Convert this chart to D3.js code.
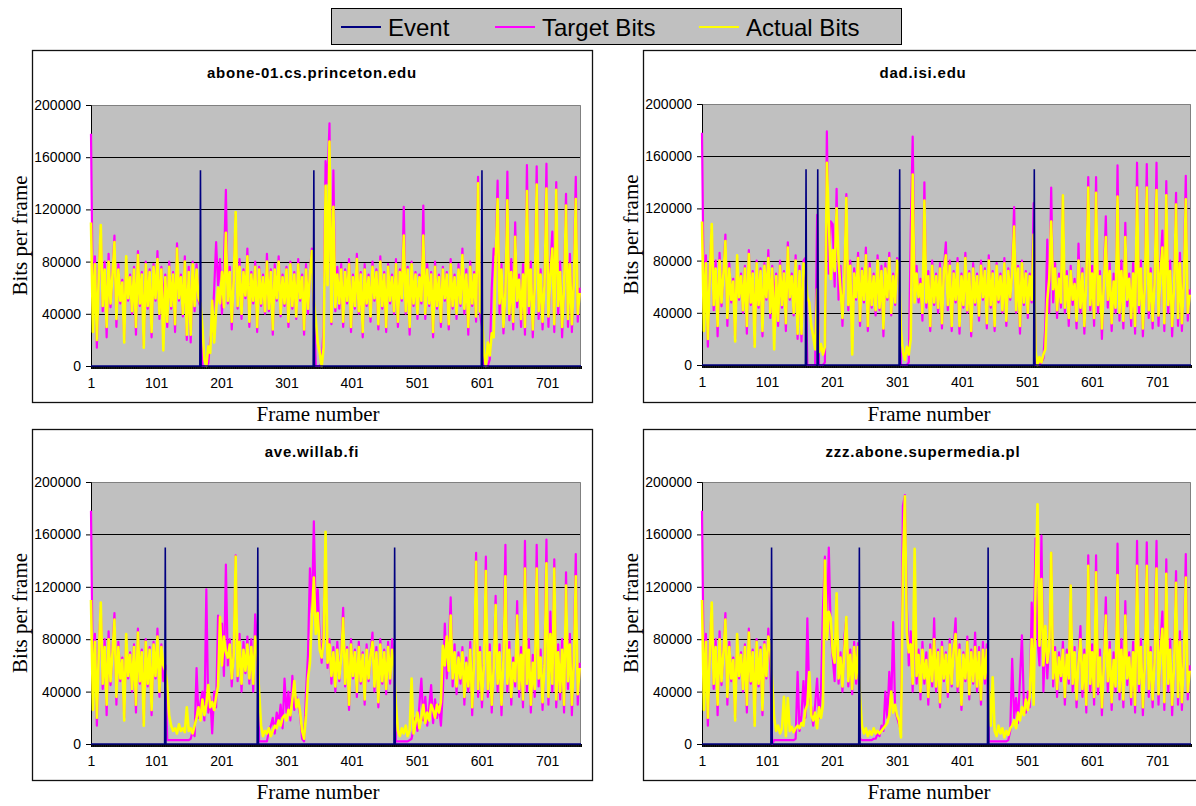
<!DOCTYPE html>
<html>
<head>
<meta charset="utf-8">
<script src="https://cdn.jsdelivr.net/npm/d3@7"></script>
<style>
  body { margin: 0; background: #fff; }
  svg { display: block; font-family: Arial, "Liberation Sans", sans-serif; }
</style>
</head>
<body>
<svg id="chart" width="1196" height="806"></svg>
<script>
// Bits per frame, sampled every 3rd frame (frame 1, 4, 7, ... 751), values in kbit
var frameStep = 3;
var nFrames = 753;
var yTicks = [0, 40000, 80000, 120000, 160000, 200000];
var gridValues = [40000, 80000, 120000, 160000];
var xTickLabels = [1, 101, 201, 301, 401, 501, 601, 701];
var seriesNames = ["Event", "Target Bits", "Actual Bits"];
var seriesColors = ["#000080", "#ff00ff", "#ffff00"];
var eventHeight = 150000;

var princetonEvents = [169, 343, 601];
var princetonTarget = [
  178, 38, 84, 14, 76, 104, 42, 80, 22, 86,
  45, 72, 100, 30, 78, 48, 66, 20, 82, 50,
  70, 40, 76, 24, 88, 46, 72, 16, 80, 44,
  74, 22, 78, 50, 88, 36, 76, 48, 70, 30,
  80, 44, 72, 26, 94, 50, 70, 38, 84, 20,
  76, 18, 80, 42, 78, 50, 45, 0, 0, 0,
  2, 20, 28, 58, 95, 62, 82, 40, 75, 135,
  48, 76, 28, 70, 116, 44, 82, 36, 74, 52,
  90, 30, 72, 48, 80, 26, 76, 46, 70, 40,
  86, 42, 74, 24, 78, 50, 84, 38, 70, 46,
  76, 30, 80, 44, 72, 36, 82, 50, 70, 24,
  78, 40, 72, 90, 50, 0, 0, 0, 2, 30,
  157, 140, 186, 32, 150, 42, 76, 44, 78, 30,
  74, 48, 82, 26, 70, 44, 86, 40, 72, 22,
  78, 46, 70, 34, 80, 50, 74, 28, 84, 44,
  72, 26, 78, 48, 70, 40, 82, 30, 74, 50,
  122, 40, 76, 24, 80, 46, 72, 36, 70, 48,
  123, 36, 78, 46, 72, 22, 80, 44, 70, 30,
  76, 50, 72, 28, 82, 44, 70, 36, 78, 46,
  90, 40, 74, 24, 80, 46, 72, 34, 145, 40,
  30, 0, 0, 0, 5, 60, 90, 85, 142, 40,
  78, 25, 60, 149, 35, 82, 28, 110, 45, 70,
  30, 78, 24, 154, 40, 80, 22, 62, 153, 36,
  74, 28, 66, 155, 30, 76, 103, 26, 141, 40,
  80, 22, 64, 132, 30, 86, 26, 70, 145, 34,
  60
];
var princetonActual = [
  110, 26, 78, 20, 70, 108, 46, 74, 30, 80,
  48, 70, 95, 36, 74, 50, 64, 18, 84, 52,
  68, 42, 74, 30, 85, 48, 70, 14, 78, 46,
  72, 26, 76, 52, 82, 40, 74, 12, 68, 34,
  76, 46, 70, 32, 90, 52, 68, 40, 80, 24,
  72, 24, 78, 46, 74, 52, 48, 30, 5, 0,
  15, 10, 50, 18, 42, 60, 48, 72, 45, 102,
  50, 72, 34, 66, 118, 46, 76, 40, 72, 54,
  84, 34, 70, 50, 76, 30, 74, 48, 68, 42,
  80, 44, 72, 28, 74, 52, 80, 40, 68, 48,
  74, 34, 78, 46, 70, 38, 78, 52, 68, 28,
  74, 44, 70, 88, 50, 35, 18, 10, 0, 14,
  138, 62, 172, 34, 122, 45, 70, 48, 74, 34,
  72, 50, 78, 30, 68, 46, 82, 42, 70, 26,
  74, 48, 68, 38, 76, 52, 72, 32, 80, 46,
  70, 30, 76, 50, 68, 42, 78, 34, 72, 52,
  100, 42, 74, 30, 78, 48, 70, 40, 68, 50,
  100, 40, 74, 48, 70, 26, 76, 46, 68, 34,
  74, 52, 70, 32, 78, 46, 68, 40, 74, 48,
  85, 44, 70, 30, 76, 48, 70, 38, 140, 42,
  40, 10, 0, 18, 8, 25, 22, 80, 128, 48,
  74, 30, 56, 127, 40, 72, 34, 99, 50, 66,
  36, 70, 30, 134, 46, 74, 28, 60, 139, 42,
  70, 34, 62, 136, 38, 70, 90, 32, 135, 46,
  72, 30, 60, 123, 36, 78, 32, 64, 128, 40,
  56
];

var dadEvents = [161, 179, 305, 512];
var dadTarget = [
  178, 38, 84, 14, 76, 104, 42, 80, 22, 86,
  45, 72, 100, 30, 78, 48, 66, 20, 82, 50,
  70, 40, 76, 24, 88, 46, 72, 16, 80, 44,
  74, 22, 78, 50, 88, 36, 76, 48, 70, 30,
  80, 44, 72, 26, 94, 50, 70, 38, 84, 20,
  76, 18, 80, 82, 0, 0, 0, 0, 0, 115,
  0, 0, 0, 2, 179, 70, 110, 108, 60, 135,
  50, 76, 30, 72, 131, 42, 80, 20, 74, 50,
  86, 30, 74, 48, 90, 26, 78, 44, 70, 38,
  84, 42, 76, 22, 78, 50, 86, 38, 70, 46,
  82, 78, 0, 0, 0, 0, 2, 103, 175, 60,
  76, 48, 66, 34, 140, 44, 72, 26, 80, 46,
  70, 40, 78, 28, 74, 94, 42, 80, 26, 72,
  48, 82, 24, 70, 44, 86, 40, 72, 22, 78,
  46, 70, 34, 80, 50, 74, 28, 84, 44, 72,
  26, 78, 48, 70, 40, 82, 30, 74, 50, 76,
  121, 40, 76, 24, 80, 46, 72, 36, 70, 48,
  124, 0, 0, 0, 2, 5, 30, 96, 40, 136,
  48, 78, 36, 70, 44, 130, 40, 72, 30, 76,
  46, 66, 28, 93, 40, 74, 24, 68, 144, 42,
  76, 30, 144, 40, 72, 20, 66, 114, 44, 78,
  26, 70, 40, 153, 34, 80, 28, 109, 45, 70,
  30, 78, 24, 155, 40, 80, 22, 62, 154, 36,
  74, 28, 66, 155, 30, 76, 103, 26, 141, 40,
  80, 22, 64, 132, 30, 86, 26, 70, 145, 34,
  58
];
var dadActual = [
  110, 26, 78, 20, 70, 108, 46, 74, 30, 80,
  48, 70, 95, 36, 74, 50, 64, 18, 84, 52,
  68, 42, 74, 30, 85, 48, 70, 14, 78, 46,
  72, 26, 76, 52, 82, 40, 74, 12, 68, 34,
  76, 46, 70, 32, 90, 52, 68, 40, 80, 24,
  72, 24, 78, 74, 52, 48, 30, 22, 12, 58,
  10, 16, 8, 14, 155, 110, 66, 88, 72, 120,
  80, 58, 36, 68, 128, 46, 76, 8, 70, 52,
  82, 34, 72, 50, 84, 30, 74, 46, 68, 42,
  80, 44, 72, 28, 74, 52, 82, 40, 68, 48,
  80, 74, 26, 10, 4, 14, 8, 20, 146, 48,
  70, 52, 62, 40, 126, 48, 68, 30, 76, 48,
  68, 44, 74, 32, 72, 84, 46, 76, 30, 70,
  50, 78, 30, 68, 46, 82, 42, 70, 26, 74,
  48, 68, 38, 76, 52, 72, 32, 80, 46, 70,
  30, 76, 50, 68, 42, 78, 34, 72, 52, 72,
  106, 42, 74, 30, 78, 48, 70, 40, 68, 50,
  100, 10, 0, 6, 2, 8, 12, 50, 66, 110,
  58, 74, 42, 66, 48, 130, 44, 68, 36, 72,
  50, 62, 34, 80, 44, 70, 30, 64, 136, 46,
  70, 36, 132, 46, 68, 28, 62, 98, 50, 72,
  32, 64, 44, 129, 40, 72, 34, 98, 50, 66,
  36, 70, 30, 136, 46, 74, 28, 60, 136, 42,
  70, 34, 62, 134, 38, 70, 90, 32, 130, 46,
  72, 30, 60, 123, 36, 78, 32, 64, 127, 40,
  54
];

var aveEvents = [115, 257, 467];
var aveTarget = [
  178, 38, 84, 14, 76, 104, 42, 80, 22, 86,
  45, 72, 100, 30, 78, 48, 66, 20, 82, 50,
  70, 40, 76, 24, 88, 46, 72, 16, 80, 44,
  74, 22, 78, 50, 88, 36, 76, 48, 60, 3,
  3, 3, 3, 3, 3, 3, 3, 3, 3, 3,
  3, 4, 10, 6, 58, 20, 32, 40, 18, 118,
  24, 36, 8, 40, 28, 98, 70, 92, 52, 137,
  60, 80, 44, 72, 144, 48, 84, 40, 78, 54,
  82, 46, 80, 40, 99, 76, 2, 2, 2, 2,
  2, 10, 14, 20, 8, 24, 16, 30, 12, 50,
  24, 40, 18, 52, 26, 36, 30, 22, 4, 2,
  40, 68, 134, 100, 170, 96, 118, 80, 62, 92,
  150, 58, 80, 46, 74, 40, 78, 48, 70, 104,
  44, 74, 26, 80, 50, 72, 36, 78, 46, 70,
  30, 76, 48, 70, 85, 40, 74, 28, 80, 46,
  72, 38, 78, 46, 80, 60, 2, 2, 2, 2,
  2, 2, 2, 3, 4, 12, 20, 10, 30, 50,
  18, 36, 14, 28, 45, 16, 34, 20, 30, 14,
  40, 92, 50, 72, 112, 44, 76, 38, 70, 46,
  74, 30, 66, 40, 78, 22, 70, 146, 36, 74,
  28, 64, 143, 36, 76, 24, 62, 113, 40, 76,
  22, 70, 152, 40, 78, 30, 66, 44, 109, 36,
  74, 28, 155, 40, 80, 24, 68, 36, 152, 44,
  72, 26, 66, 156, 30, 101, 40, 141, 28, 76,
  34, 80, 24, 131, 42, 84, 22, 68, 145, 30,
  62
];
var aveActual = [
  110, 26, 78, 20, 70, 108, 46, 74, 30, 80,
  48, 70, 95, 36, 74, 50, 64, 18, 84, 52,
  68, 42, 74, 30, 85, 48, 70, 14, 78, 46,
  72, 26, 76, 52, 82, 40, 74, 60, 56, 45,
  22, 14, 10, 12, 8, 15, 10, 12, 9, 28,
  10, 12, 8, 14, 20, 28, 18, 34, 22, 30,
  45, 28, 32, 26, 36, 44, 97, 60, 82, 70,
  66, 76, 50, 68, 143, 52, 78, 46, 72, 56,
  76, 50, 74, 46, 82, 70, 40, 14, 6, 10,
  8, 12, 6, 10, 14, 12, 18, 14, 20, 22,
  18, 26, 22, 34, 48, 28, 34, 24, 10, 4,
  22, 50, 62, 96, 127, 84, 100, 72, 66, 78,
  162, 62, 76, 52, 70, 44, 72, 50, 66, 96,
  46, 72, 30, 76, 52, 70, 40, 74, 48, 68,
  34, 72, 50, 68, 78, 44, 70, 32, 76, 48,
  70, 42, 74, 50, 72, 58, 30, 10, 6, 12,
  8, 14, 6, 10, 50, 8, 16, 24, 12, 20,
  30, 16, 24, 18, 30, 26, 20, 30, 24, 32,
  75, 60, 82, 56, 98, 50, 70, 44, 66, 50,
  70, 36, 62, 44, 72, 28, 64, 139, 42, 70,
  34, 60, 132, 42, 70, 30, 58, 106, 46, 70,
  30, 64, 128, 46, 72, 36, 62, 48, 98, 42,
  68, 34, 134, 46, 72, 30, 62, 42, 134, 50,
  66, 32, 60, 138, 36, 84, 46, 134, 34, 70,
  40, 72, 30, 121, 48, 76, 30, 62, 128, 38,
  58
];

var zzzEvents = [108, 243, 441];
var zzzTarget = [
  178, 38, 84, 14, 76, 104, 42, 80, 22, 86,
  45, 72, 100, 30, 78, 48, 66, 20, 82, 50,
  70, 40, 76, 24, 88, 46, 72, 16, 80, 44,
  74, 22, 78, 50, 88, 60, 0, 3, 3, 3,
  3, 3, 3, 3, 3, 3, 3, 3, 4, 55,
  10, 22, 48, 20, 96, 36, 28, 14, 30, 50,
  20, 40, 103, 143, 90, 150, 84, 66, 48, 112,
  46, 70, 40, 82, 96, 44, 72, 38, 78, 46,
  77, 4, 3, 3, 3, 3, 3, 3, 4, 4,
  8, 6, 14, 10, 40, 20, 55, 30, 93, 26,
  20, 15, 10, 182, 190, 105, 60, 86, 40, 120,
  46, 72, 34, 78, 46, 70, 30, 76, 44, 96,
  40, 72, 28, 78, 48, 70, 36, 80, 44, 74,
  96, 40, 76, 26, 70, 48, 82, 34, 72, 46,
  85, 40, 74, 30, 78, 46, 76, 2, 2, 2,
  2, 2, 2, 2, 2, 2, 2, 3, 10, 65,
  20, 35, 16, 50, 83, 30, 24, 40, 28, 108,
  70, 157, 80, 60, 159, 40, 86, 50, 80, 146,
  44, 74, 36, 70, 48, 78, 30, 72, 46, 121,
  40, 74, 28, 66, 90, 36, 72, 24, 144, 40,
  76, 30, 144, 38, 72, 22, 64, 112, 40, 78,
  26, 70, 40, 153, 34, 80, 28, 109, 45, 70,
  30, 78, 24, 155, 40, 80, 22, 62, 154, 36,
  74, 28, 66, 155, 30, 76, 101, 26, 141, 40,
  80, 22, 64, 132, 30, 86, 26, 70, 145, 34,
  60
];
var zzzActual = [
  110, 26, 78, 20, 70, 108, 46, 74, 30, 80,
  48, 70, 95, 36, 74, 50, 64, 18, 84, 52,
  68, 42, 74, 30, 85, 48, 70, 14, 78, 46,
  72, 26, 76, 52, 82, 72, 48, 20, 10, 14,
  8, 12, 36, 6, 35, 10, 13, 9, 12, 14,
  12, 16, 14, 26, 30, 55, 22, 18, 24, 12,
  28, 20, 30, 140, 80, 101, 96, 70, 62, 115,
  50, 66, 44, 72, 97, 48, 68, 42, 74, 50,
  74, 36, 14, 8, 12, 6, 10, 7, 12, 8,
  10, 8, 10, 12, 14, 16, 22, 40, 24, 30,
  22, 18, 5, 133, 189, 85, 70, 76, 46, 149,
  52, 68, 40, 72, 50, 64, 36, 72, 48, 80,
  44, 70, 32, 74, 50, 68, 40, 76, 46, 72,
  84, 44, 72, 30, 68, 50, 78, 38, 70, 48,
  74, 44, 70, 34, 72, 50, 72, 40, 14, 51,
  10, 6, 14, 8, 12, 5, 10, 7, 12, 14,
  18, 12, 24, 18, 28, 22, 34, 26, 36, 80,
  30, 120, 183, 75, 126, 60, 90, 62, 74, 146,
  50, 70, 42, 66, 52, 72, 36, 68, 50, 121,
  46, 70, 34, 62, 80, 42, 68, 30, 136, 46,
  70, 36, 131, 44, 66, 28, 60, 98, 48, 72,
  32, 64, 44, 129, 40, 72, 34, 98, 50, 66,
  36, 70, 30, 136, 46, 74, 28, 60, 136, 42,
  70, 34, 62, 134, 38, 70, 88, 32, 130, 46,
  72, 30, 60, 123, 36, 78, 32, 64, 127, 40,
  56
];

var svg = d3.select("#chart");

// layout: box = chart area [x, y, w, h], plot = gray plot area [x, y, w, h]
var panels = [
  {title: "abone-01.cs.princeton.edu", events: princetonEvents, target: princetonTarget, actual: princetonActual,
   box: [32, 50, 560, 352], plot: [91, 105, 490, 261]},
  {title: "dad.isi.edu", events: dadEvents, target: dadTarget, actual: dadActual,
   box: [643, 50, 560, 352], plot: [702, 104, 489, 261]},
  {title: "ave.willab.fi", events: aveEvents, target: aveTarget, actual: aveActual,
   box: [32, 429, 560, 351], plot: [91, 482, 490, 262]},
  {title: "zzz.abone.supermedia.pl", events: zzzEvents, target: zzzTarget, actual: zzzActual,
   box: [643, 429, 560, 351], plot: [702, 482, 489, 262]}
];

function toPoints(values) {
  return values.map(function(v, i) { return [1 + i * frameStep, v * 1000]; });
}

function eventPoints(frames) {
  var pts = [[1, 0]];
  frames.forEach(function(f) {
    pts.push([f - 1, 0], [f, eventHeight], [f + 1, 0]);
  });
  pts.push([nFrames, 0]);
  return pts;
}

var axisFont = "Arial, 'Liberation Sans', sans-serif";
var serifFont = "'Liberation Serif', 'Times New Roman', serif";

function drawPanel(p) {
  var g = svg.append("g");
  var bx = p.box[0], by = p.box[1], bw = p.box[2], bh = p.box[3];
  var px = p.plot[0], py = p.plot[1], pw = p.plot[2], ph = p.plot[3];

  g.append("rect")
    .attr("x", bx + 0.5).attr("y", by + 0.5)
    .attr("width", bw).attr("height", bh)
    .attr("fill", "#fff").attr("stroke", "#111").attr("stroke-width", 1.3);

  var x = d3.scaleLinear().domain([1, nFrames]).range([px, px + pw]);
  var y = d3.scaleLinear().domain([0, 200000]).range([py + ph, py]);

  g.append("rect")
    .attr("x", px).attr("y", py).attr("width", pw).attr("height", ph)
    .attr("fill", "#c0c0c0");

  g.selectAll("line.grid")
    .data(gridValues)
    .enter().append("line")
    .attr("class", "grid")
    .attr("x1", px).attr("x2", px + pw)
    .attr("y1", function(d) { return Math.round(y(d)) + 0.5; })
    .attr("y2", function(d) { return Math.round(y(d)) + 0.5; })
    .attr("stroke", "#000");

  // top and right border of plot area
  g.append("path")
    .attr("d", "M" + px + "," + (py + 0.5) + "H" + (px + pw - 0.5) + "V" + (py + ph))
    .attr("fill", "none").attr("stroke", "#808080");

  // dense category tick marks under the x axis
  var xTicksAll = d3.axisBottom(x)
    .tickValues(d3.range(1, nFrames + 1))
    .tickSize(3)
    .tickFormat("");
  g.append("g")
    .attr("transform", "translate(0," + (py + ph) + ")")
    .call(xTicksAll)
    .call(function(a) { a.select(".domain").attr("stroke", "#000"); });

  var xLabels = d3.axisBottom(x)
    .tickValues(xTickLabels)
    .tickSize(0)
    .tickPadding(12)
    .tickFormat(d3.format("d"));
  g.append("g")
    .attr("transform", "translate(0," + (py + ph) + ")")
    .call(xLabels)
    .call(function(a) {
      a.select(".domain").remove();
      a.selectAll("text").attr("font-size", 14).attr("font-family", axisFont).attr("fill", "#000");
    });

  var yAxis = d3.axisLeft(y)
    .tickValues(yTicks)
    .tickSize(5)
    .tickPadding(5)
    .tickFormat(d3.format("d"));
  g.append("g")
    .attr("transform", "translate(" + px + ",0)")
    .call(yAxis)
    .call(function(a) {
      a.select(".domain").attr("stroke", "#000");
      a.selectAll("line").attr("stroke", "#000");
      a.selectAll("text").attr("font-size", 14).attr("font-family", axisFont).attr("fill", "#000");
    });

  var line = d3.line()
    .x(function(d) { return x(d[0]); })
    .y(function(d) { return y(d[1]); });

  g.append("path")
    .datum(toPoints(p.target))
    .attr("d", line)
    .attr("fill", "none").attr("stroke", seriesColors[1])
    .attr("stroke-width", 2.2).attr("stroke-linejoin", "round");

  g.append("path")
    .datum(toPoints(p.actual))
    .attr("d", line)
    .attr("fill", "none").attr("stroke", seriesColors[2])
    .attr("stroke-width", 2.6).attr("stroke-linejoin", "round");

  g.append("path")
    .datum(eventPoints(p.events))
    .attr("d", line)
    .attr("fill", "none").attr("stroke", seriesColors[0])
    .attr("stroke-width", 1.6);

  g.append("text")
    .attr("x", bx + bw / 2)
    .attr("y", by + 28)
    .attr("text-anchor", "middle")
    .attr("font-size", 15)
    .attr("font-weight", "bold")
    .attr("letter-spacing", 0.8)
    .text(p.title);

  g.append("text")
    .attr("transform", "translate(" + (bx - 12) + "," + (py + ph / 2) + ") rotate(-90)")
    .attr("dy", "0.35em")
    .attr("text-anchor", "middle")
    .attr("font-family", serifFont)
    .attr("font-size", 21)
    .text("Bits per frame");

  g.append("text")
    .attr("x", bx + bw / 2 + 6)
    .attr("y", by + bh + 19)
    .attr("text-anchor", "middle")
    .attr("font-family", serifFont)
    .attr("font-size", 21)
    .text("Frame number");
}

panels.forEach(drawPanel);

// legend
var legend = svg.append("g");
legend.append("rect")
  .attr("x", 331.5).attr("y", 8.5).attr("width", 570).attr("height", 36)
  .attr("fill", "#c0c0c0").attr("stroke", "#000");
var legendX = [341, 495, 699];
var items = legend.selectAll("g.item")
  .data(seriesNames)
  .enter().append("g")
  .attr("class", "item")
  .attr("transform", function(d, i) { return "translate(" + legendX[i] + ",27)"; });
items.append("line")
  .attr("x1", 0).attr("x2", 40)
  .attr("stroke", function(d, i) { return seriesColors[i]; })
  .attr("stroke-width", 2);
items.append("text")
  .attr("x", 47)
  .attr("dy", "0.36em")
  .attr("font-size", 24)
  .text(function(d) { return d; });
</script>
</body>
</html>
